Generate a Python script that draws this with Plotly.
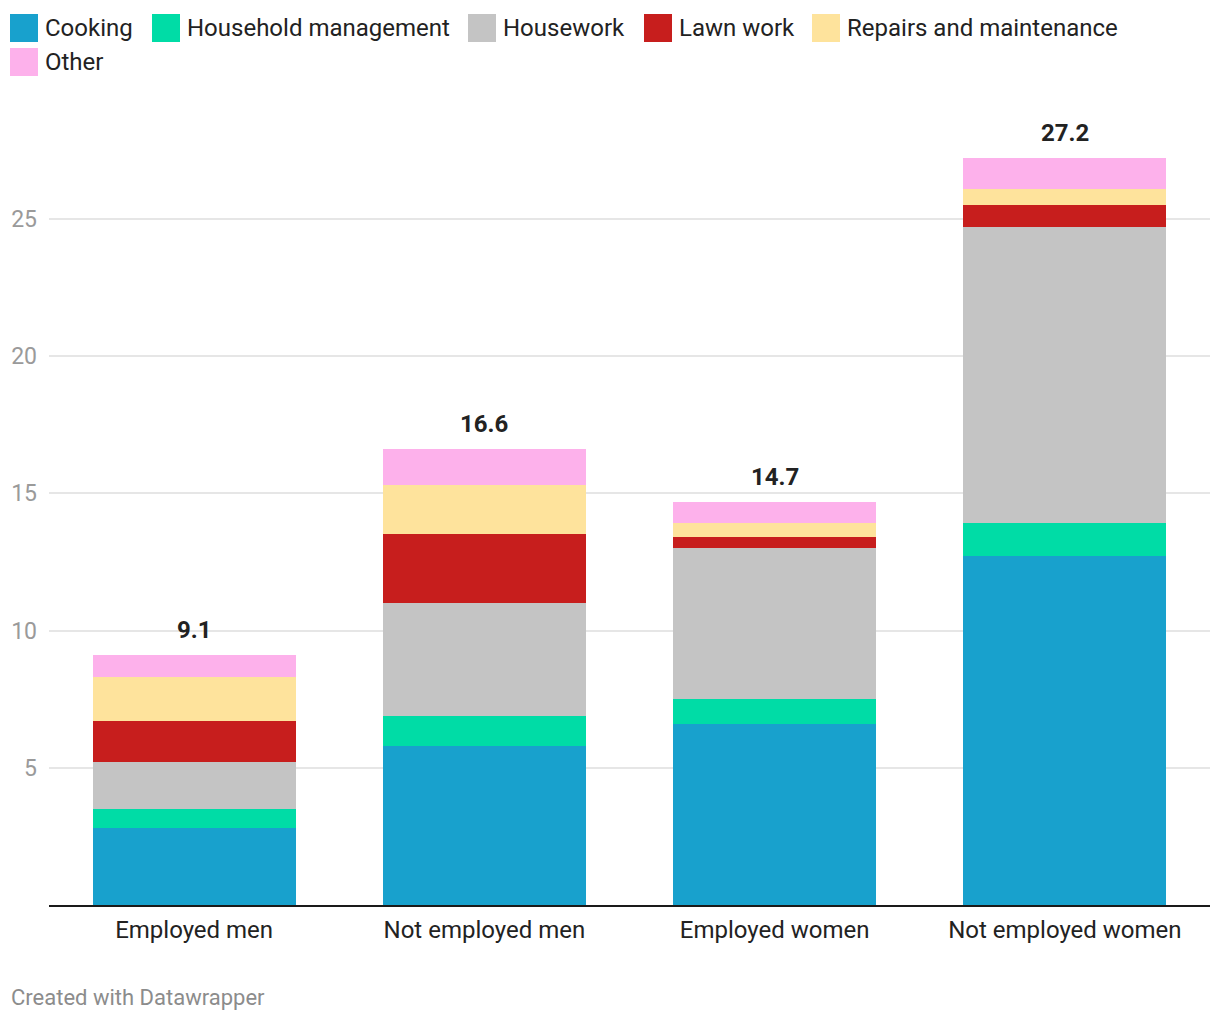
import plotly.graph_objects as go

categories = ["Employed men", "Not employed men", "Employed women", "Not employed women"]
series_names = ["Cooking", "Household management", "Housework", "Lawn work",
                "Repairs and maintenance", "Other"]
cooking = [2.8, 5.8, 6.6, 12.7]
household_management = [0.7, 1.1, 0.9, 1.2]
housework = [1.7, 4.1, 5.5, 10.8]
lawn_work = [1.5, 2.5, 0.4, 0.8]
repairs = [1.6, 1.8, 0.5, 0.6]
other = [0.8, 1.3, 0.8, 1.1]
y_ticks = [5, 10, 15, 20, 25]

series_values = [cooking, household_management, housework, lawn_work, repairs, other]
colors = ["#18a1cd", "#00dca6", "#c4c4c4", "#c71e1d", "#fee39c", "#fdb1eb"]

OFF = 8  # page body margin
W, H = 1220 - OFF, 1020 - OFF
L, R, T, B = 49 - OFF, 10, 109 - OFF, 115
PW, PH = W - L - R, H - T - B
FONT = "Roboto"


def px2x(px):
    return (px - OFF - L) / PW


def py2y(py):
    return (H - B - (py - OFF)) / PH


fig = go.Figure()
for name, vals, col in zip(series_names, series_values, colors):
    fig.add_trace(go.Bar(name=name, x=categories, y=vals, marker_color=col,
                         marker_line_width=0, showlegend=False,
                         hovertemplate="%{x}<br>" + name + ": %{y}<extra></extra>"))

totals = [round(sum(v), 1) for v in zip(*series_values)]
annotations = []
for cat, tot in zip(categories, totals):
    annotations.append(dict(x=cat, y=tot, xref="x", yref="y", text=f"<b>{tot:.1f}</b>",
                            showarrow=False, yanchor="middle", yshift=25,
                            font=dict(family=FONT, size=24, color="#222222")))

# custom legend (layout only)
legend_sq_x = [10, 152, 468, 644, 812, 10]
legend_row_y = [28, 28, 28, 28, 28, 62]
shapes = []
for name, col, sx, cy in zip(series_names, colors, legend_sq_x, legend_row_y):
    shapes.append(dict(type="rect", xref="paper", yref="paper",
                       x0=px2x(sx), x1=px2x(sx + 28), y0=py2y(cy - 14), y1=py2y(cy + 14),
                       fillcolor=col, line_width=0))
    annotations.append(dict(x=px2x(sx + 33), y=py2y(cy), xref="paper", yref="paper",
                            text=name, showarrow=False, xanchor="left", yanchor="middle",
                            font=dict(family=FONT, size=24, color="#222222")))

annotations.append(dict(x=px2x(9), y=py2y(997), xref="paper", yref="paper",
                        text="Created with Datawrapper", showarrow=False,
                        xanchor="left", yanchor="middle",
                        font=dict(family=FONT, size=22, color="#8c8c8c")))

fig.update_layout(
    width=W, height=H,
    margin=dict(l=L, r=R, t=T, b=B, pad=0, autoexpand=False),
    paper_bgcolor="white", plot_bgcolor="white",
    barmode="stack", bargap=0.3,
    font=dict(family=FONT),
    shapes=shapes, annotations=annotations,
    xaxis=dict(showgrid=False, showline=True, linecolor="#1a1a1a", linewidth=2,
               ticks="", ticklabelstandoff=2, automargin=False,
               tickfont=dict(family=FONT, size=24, color="#222222"),
               fixedrange=True),
    yaxis=dict(range=[0, 29], tickvals=y_ticks, showgrid=True, gridcolor="#e6e6e6",
               gridwidth=2, zeroline=False, showline=False, ticks="",
               ticklabelstandoff=11, automargin=False,
               tickfont=dict(family=FONT, size=23, color="#9a9a9a"), fixedrange=True),
)

fig.write_html("out.html")
